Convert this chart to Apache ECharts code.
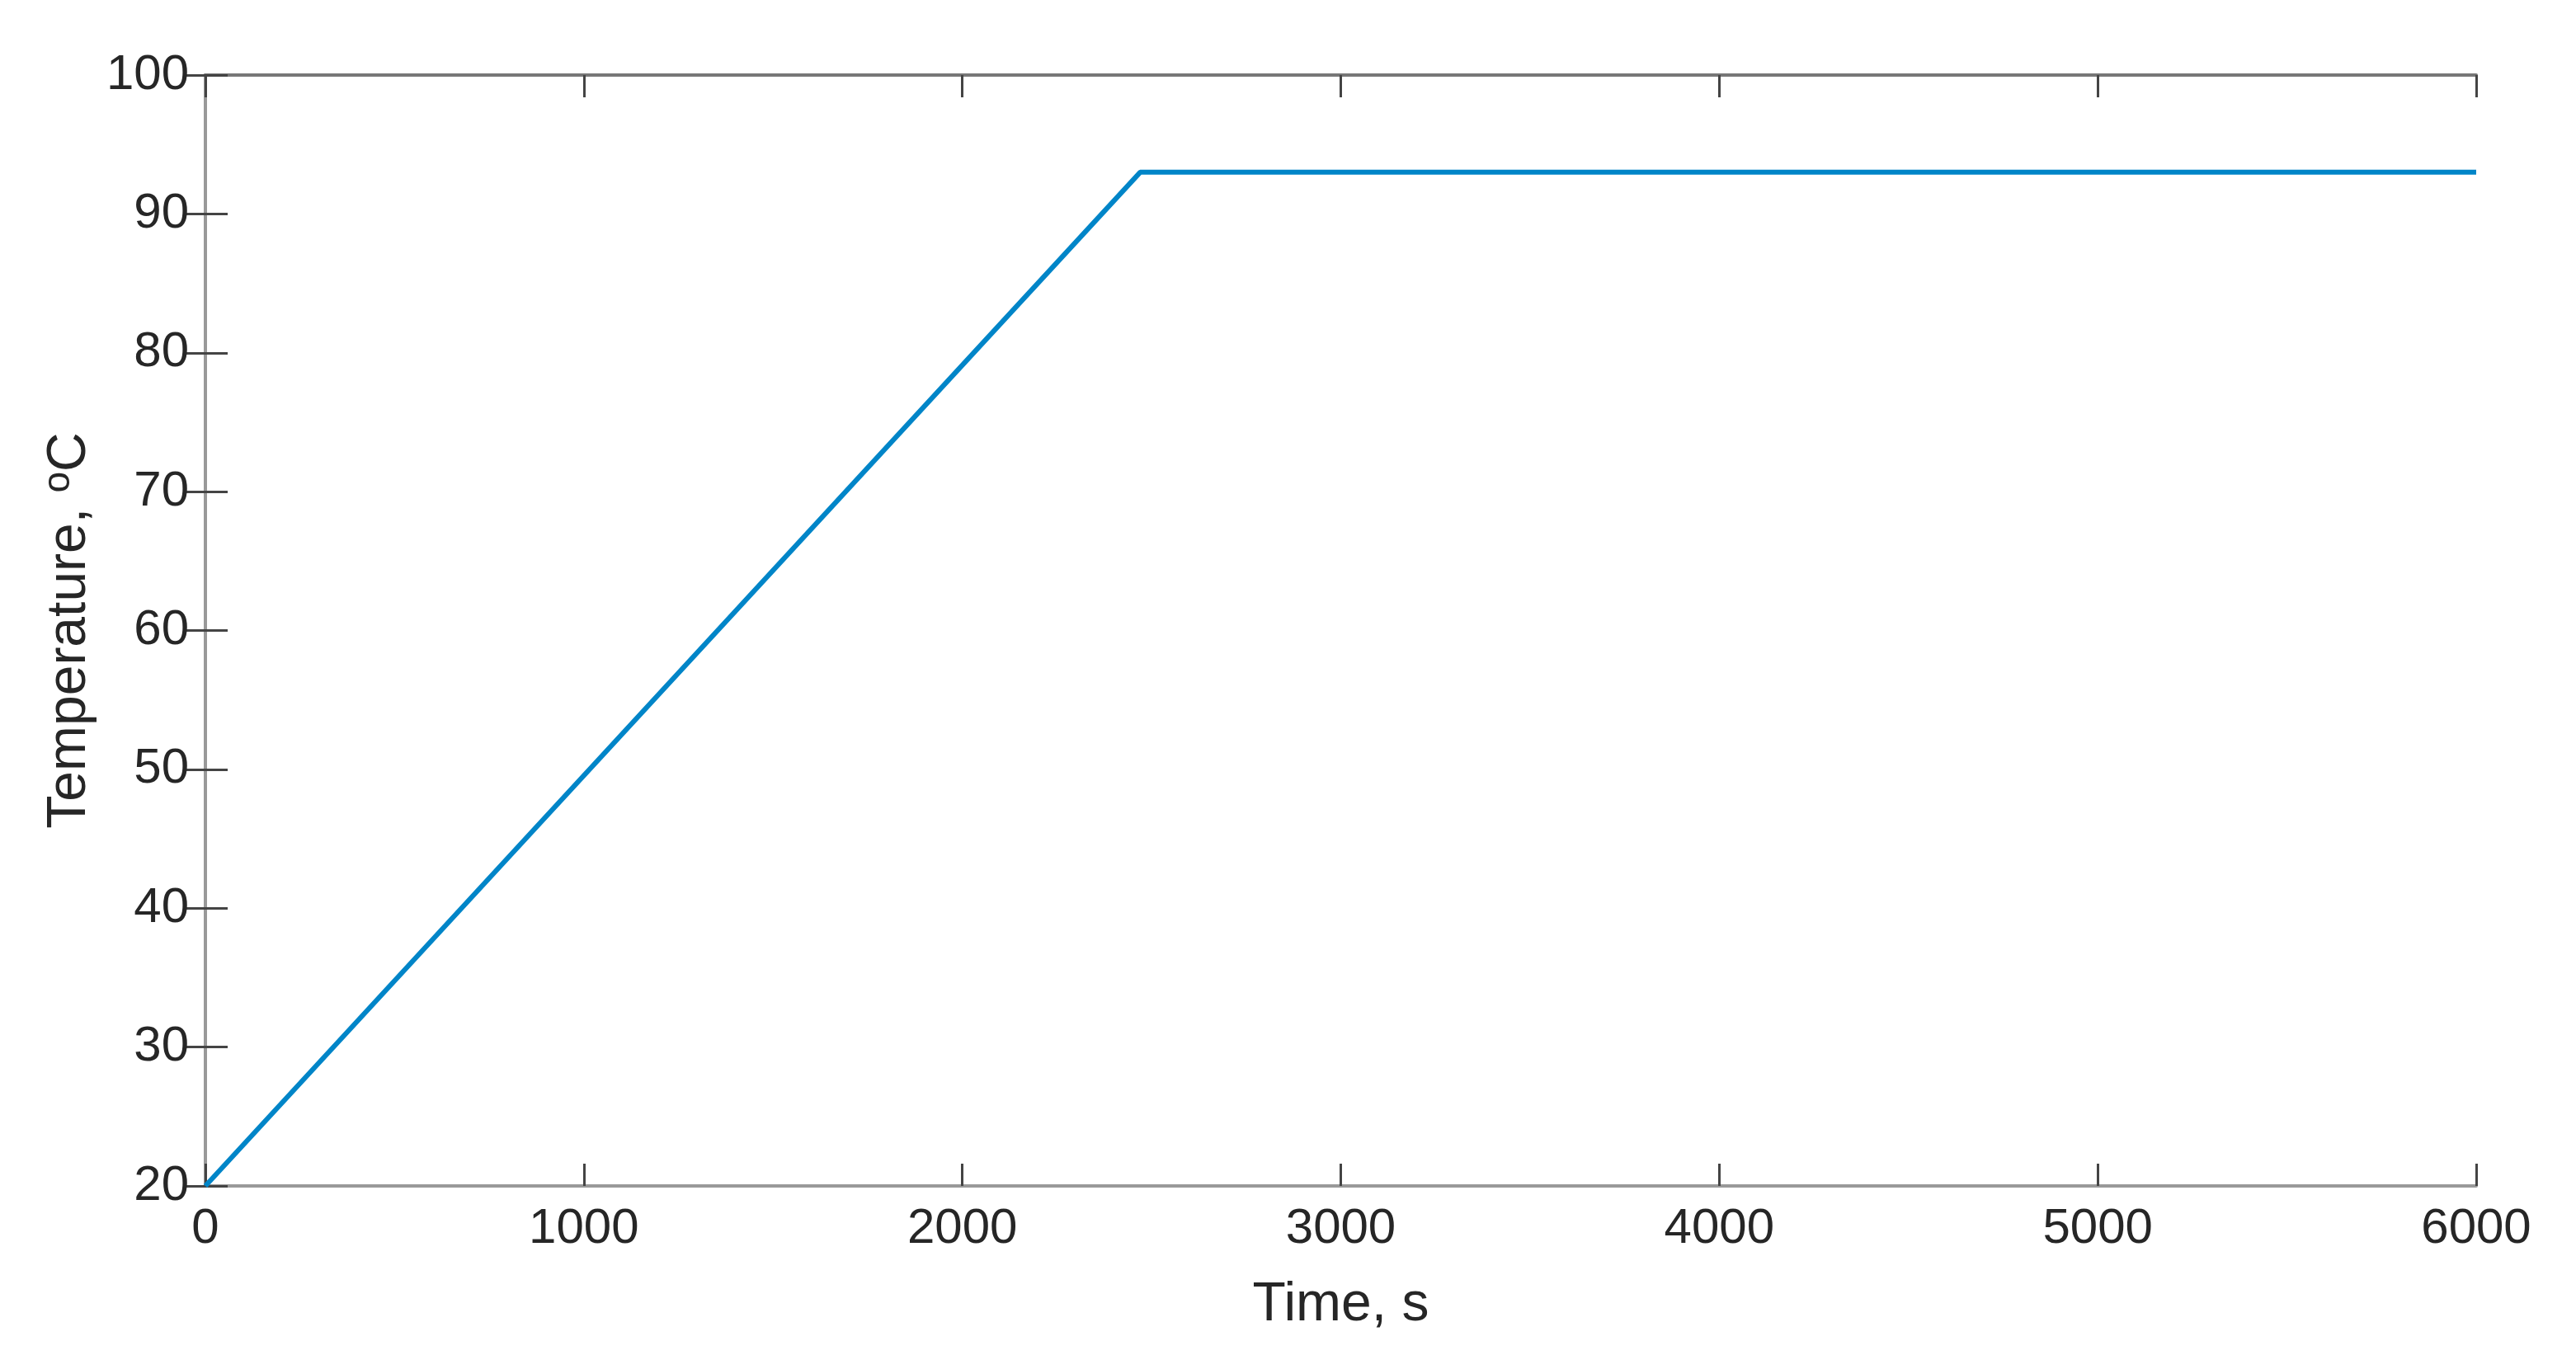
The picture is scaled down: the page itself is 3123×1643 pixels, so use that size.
<!DOCTYPE html>
<html>
<head>
<meta charset="utf-8">
<script src="https://cdn.jsdelivr.net/npm/echarts@6/dist/echarts.min.js"></script>
<style>
html,body{margin:0;padding:0;background:#fff;}
#chart{width:3123px;height:1643px;}
</style>
</head>
<body>
<div id="chart"></div>
<script>
const timeValues = [0, 2470, 6000];
const temperatureValues = [20, 93, 93];
const xTicks = [0, 1000, 2000, 3000, 4000, 5000, 6000];
const yTicks = [20, 30, 40, 50, 60, 70, 80, 90, 100];

const font = 'Liberation Sans, Arial, sans-serif';
const textColor = '#262626';
const chart = echarts.init(document.getElementById('chart'));
const tickStyle = {show: true, inside: true, length: 27, lineStyle: {color: '#444', width: 3}};
const lineAx = {show: true, lineStyle: {color: '#999', width: 4}};

chart.setOption({
  animation: false,
  backgroundColor: '#fff',
  grid: {left: 249, right: 121, top: 91, bottom: 205, containLabel: false},
  xAxis: [
    {type: 'value', position: 'bottom', min: xTicks[0], max: xTicks[xTicks.length-1], interval: 1000,
     name: 'Time, s', nameLocation: 'middle', nameGap: 112,
     nameTextStyle: {fontFamily: font, fontSize: 66, color: textColor},
     axisLine: lineAx, axisTick: tickStyle, splitLine: {show: false},
     axisLabel: {fontFamily: font, fontSize: 60, color: textColor, margin: 22, formatter: v => String(v)}},
    {type: 'value', position: 'top', min: xTicks[0], max: xTicks[xTicks.length-1], interval: 1000,
     axisLine: {show: true, lineStyle: {color: '#777', width: 4}}, axisTick: tickStyle,
     axisLabel: {show: false}, splitLine: {show: false}}
  ],
  yAxis: [
    {type: 'value', position: 'left', min: yTicks[0], max: yTicks[yTicks.length-1], interval: 10,
     name: 'Temperature, {sup|o}C', nameLocation: 'middle', nameGap: 126, nameRotate: 90,
     nameTextStyle: {fontFamily: font, fontSize: 66, color: textColor,
       rich: {sup: {fontFamily: font, fontSize: 46, color: textColor, verticalAlign: 'top', padding: [0,0,28,0]}}},
     axisLine: lineAx, axisTick: tickStyle, splitLine: {show: false},
     axisLabel: {fontFamily: font, fontSize: 60, color: textColor, margin: 20, formatter: v => String(v)}},
    {type: 'value', position: 'right', min: yTicks[0], max: yTicks[yTicks.length-1], interval: 10,
     axisLine: lineAx, axisTick: tickStyle,
     axisLabel: {show: false}, splitLine: {show: false}}
  ],
  series: [{
    type: 'line',
    data: timeValues.map((t, i) => [t, temperatureValues[i]]),
    showSymbol: false,
    lineStyle: {color: '#0085C8', width: 6},
    itemStyle: {color: '#0085C8'},
    clip: false
  }]
});
</script>
</body>
</html>
